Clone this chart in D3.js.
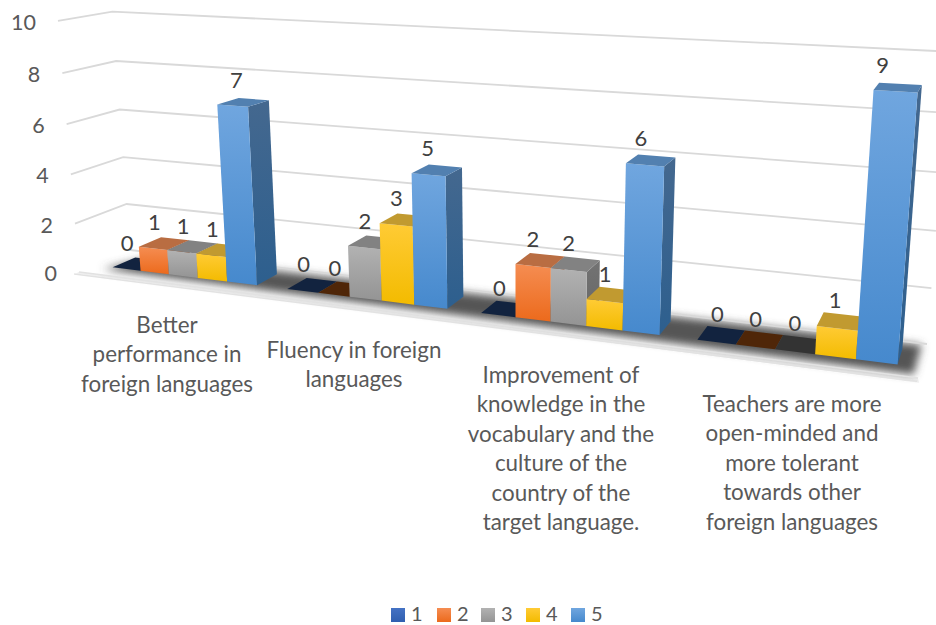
<!DOCTYPE html>
<html><head><meta charset="utf-8">
<script src="https://cdn.jsdelivr.net/npm/d3@7/dist/d3.min.js"></script>
<style>html,body{margin:0;padding:0;background:#fff}svg{display:block}text{font-family:Lato,"Open Sans",sans-serif}</style>
</head><body><svg id="c" width="936" height="625"></svg>
<script>
const categories=[
 ["Better","performance in","foreign languages"],
 ["Fluency in foreign","languages"],
 ["Improvement of","knowledge in the","vocabulary and the","culture of the","country of the","target language."],
 ["Teachers are more","open-minded and","more tolerant","towards other","foreign languages"]];
const seriesNames=["1","2","3","4","5"];
const series1=[0,0,0,0];
const series2=[1,0,2,0];
const series3=[1,2,2,0];
const series4=[1,3,1,1];
const series5=[7,5,6,9];
const seriesValues=[series1,series2,series3,series4,series5];
const yTicks=[0,2,4,6,8,10];
const labelX=[167,354,561,792];
const labelY=[326,351,376,405];
const legendX=[391,437,481,526,571];
const faceTop=["#4472c4","#f58d52","#b2b2b2","#ffcb35","#70a6df"];
const faceBot=["#2f5fb0","#ec6a1c","#949494","#f3bb00","#4689cd"];
const sideTop=["#2a4a80","#a85a30","#737373","#b88a10","#44688f"];
const sideBot=["#1f3f70","#8f4a20","#666666","#a07a08","#2d5f8e"];
const capCol=["#2b4a82","#b96d42","#828282","#c19a30","#5280b0"];
const zeroCol=["#12233f","#4f2608","#333333","#5c4300","#1f3f60"];

// floor corners of the chart box [x,y]: FL FR BR BL, vertical vanishing point, perspective per unit
const floorQ=[[79,272],[918,378],[927,344],[130,250]];
const vanish=[519,5526];
const persp=-0.00456;
function homography(q){
  const [[x0,y0],[x1,y1],[x2,y2],[x3,y3]]=q;
  const dx1=x1-x2,dx2=x3-x2,sx=x0-x1+x2-x3,dy1=y1-y2,dy2=y3-y2,sy=y0-y1+y2-y3;
  const den=dx1*dy2-dx2*dy1;
  const g=(sx*dy2-dx2*sy)/den,h=(dx1*sy-sx*dy1)/den;
  const a=x1-x0+g*x1,b=x3-x0+h*x3,d=y1-y0+g*y1,e=y3-y0+h*y3;
  return (u,v)=>[a*u+b*v+x0,d*u+e*v+y0,g*u+h*v+1];
}
const H0=homography(floorQ);
const yScale=d3.scaleLinear().domain([0,10]).range([0,10*persp]);
function project(x,v,z){
  const p=H0(x,z),s=yScale(v),w=p[2]+s;
  return [(p[0]+vanish[0]*s)/w,(p[1]+vanish[1]*s)/w];
}
const xBand=d3.scaleBand().domain(d3.range(categories.length)).range([0.006,0.998]).paddingInner(1/6).paddingOuter(1/12);
const sBand=d3.scaleBand().domain(d3.range(seriesNames.length)).range([0,xBand.bandwidth()]);
const zFront=.3,zBack=.75;

const svg=d3.select("#c");
const defs=svg.append("defs");
const vgrad=(id,a,b)=>{const g=defs.append("linearGradient").attr("id",id).attr("x1",0).attr("y1",0).attr("x2",0).attr("y2",1);
 g.append("stop").attr("offset",0).attr("stop-color",a);g.append("stop").attr("offset",1).attr("stop-color",b);};
seriesNames.forEach((s,i)=>{vgrad("f"+i,faceTop[i],faceBot[i]);vgrad("s"+i,sideTop[i],sideBot[i]);});
defs.append("filter").attr("id","soft").attr("x","-5%").attr("y","-30%").attr("width","110%").attr("height","160%")
 .append("feGaussianBlur").attr("stdDeviation",4);
const line=d3.line();
const poly=pts=>line(pts)+"Z";

// floor
const gFloor=svg.append("g");
gFloor.append("path").attr("d",line([project(0,0,0),project(1,0,0),project(1.002,0,-.12),project(0.0,0,-.06)])+"Z").attr("fill","#efefef");
gFloor.append("path").attr("d",poly([project(.02,0,.2),project(.995,0,.08),project(.995,0,.95),project(.05,0,.85)])).attr("fill","#555555").attr("filter","url(#soft)");
gFloor.append("path").attr("d",line([project(0,0,0),project(1,0,0)])).attr("fill","none").attr("stroke","#e2e2e2").attr("stroke-width",1.5);
gFloor.append("path").attr("d",line([project(0,0,-.09),project(1,0,-.09)])).attr("fill","none").attr("stroke","#e2e2e2").attr("stroke-width",1.5);

// gridlines
const gGrid=svg.append("g").attr("fill","none").attr("stroke","#d9d9d9").attr("stroke-width",1.8);
yTicks.forEach(v=>{
  gGrid.append("path").attr("d",line(v===0?[project(0,0,1),project(1,0,1)]:[project(0,v,0),project(0,v,1),project(1,v,1)]));
});
// y axis labels
svg.append("g").selectAll("text").data(yTicks).join("text")
 .attr("x",d=>project(0,d,0)[0]-22).attr("y",d=>project(0,d,0)[1]+9)
 .attr("text-anchor","end").attr("font-size",21.5).attr("fill","#595959").text(d=>d);

// bars
const gBars=svg.append("g");
const gLabels=svg.append("g");
categories.forEach((c,ci)=>{
  seriesNames.forEach((s,si)=>{
    const val=seriesValues[si][ci];
    const x0=xBand(ci)+sBand(si),x1=x0+sBand.bandwidth();
    const fb0=project(x0,0,zFront),fb1=project(x1,0,zFront),bb1=project(x1,0,zBack);
    const ft0=project(x0,val,zFront),ft1=project(x1,val,zFront),bt1=project(x1,val,zBack),bt0=project(x0,val,zBack);
    if(val>0){
      gBars.append("path").attr("d",poly([fb1,bb1,bt1,ft1])).attr("fill",`url(#s${si})`);
      gBars.append("path").attr("d",poly([fb0,fb1,ft1,ft0])).attr("fill",`url(#f${si})`);
    }
    gBars.append("path").attr("d",poly([ft0,ft1,bt1,bt0])).attr("fill",val>0?capCol[si]:zeroCol[si]);
    const m=project((x0+x1)/2,val,(zFront+zBack)/2);
    const X=m[0]-4-val*.6;
    const dx=Math.min(0,(X-700)/85)+val*(X-474)*(X<474?-.004:-.0016);
    gLabels.append("text").attr("x",X+dx).attr("y",m[1]-val*0.2-13)
      .attr("text-anchor","middle").attr("font-size",22).attr("fill","#404040").text(val);
  });
  const t=svg.append("text").attr("text-anchor","middle").attr("font-size",22.4).attr("fill","#595959");
  c.forEach((ln,i)=>t.append("tspan").attr("x",labelX[ci]).attr("y",labelY[ci]+7+i*29.4).text(ln));
});

// legend
const gl=svg.append("g");
seriesNames.forEach((s,i)=>{
  gl.append("rect").attr("x",legendX[i]).attr("y",608).attr("width",14).attr("height",14).attr("fill",`url(#f${i})`);
  gl.append("text").attr("x",legendX[i]+20).attr("y",621).attr("font-size",20).attr("fill","#595959").text(s);
});
</script></body></html>
